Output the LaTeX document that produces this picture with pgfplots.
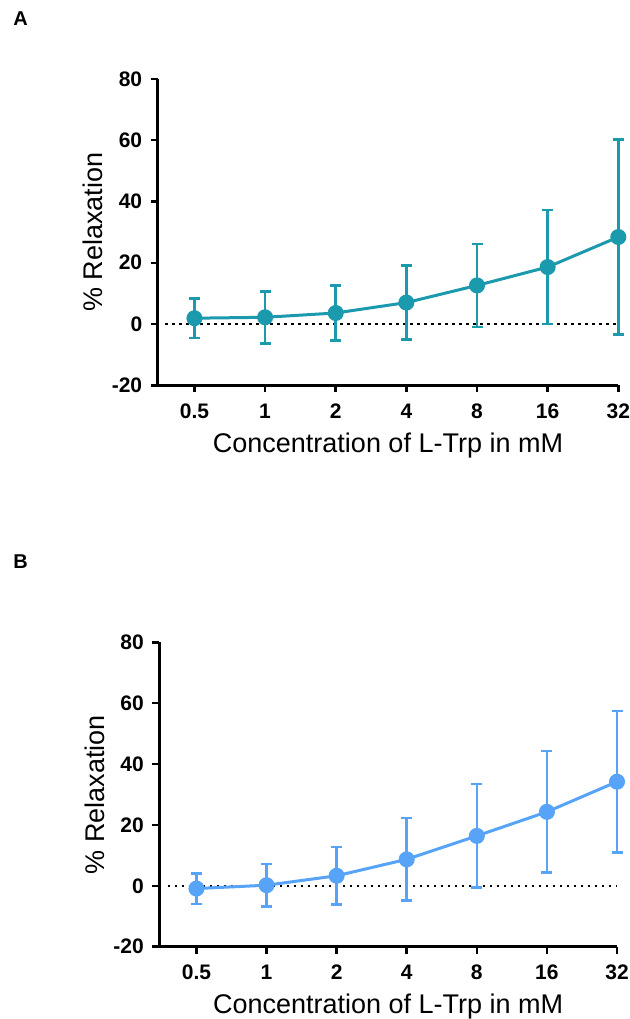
\documentclass[border=0pt]{standalone}
\usepackage{pgfplots}
\pgfplotsset{compat=1.18}
\usepackage{pgfplotstable}
\usepackage{fontspec}
\setmainfont{Liberation Sans}

\definecolor{tealA}{HTML}{1B9AAE}
\definecolor{blueB}{HTML}{56A3F8}

% mean and SD
\pgfplotstableread{
x  y     e
0  1.9   6.5
1  2.2   8.5
2  3.6   9.0
3  7.0   12.1
4  12.6  13.5
5  18.6  18.6
6  28.4  31.8
}\dataA
\pgfplotstableread{
x  y     e
0  -0.9  5.0
1  0.2   7.0
2  3.3   9.5
3  8.7   13.5
4  16.4  17.0
5  24.3  20.0
6  34.2  23.3
}\dataB

\pgfplotsset{
  relax/.style={
    scale only axis,
    anchor=south west,
    axis x line*=bottom,
    axis y line*=left,
    axis line style={line width=3bp, black},
    major tick style={line width=2.5bp, black},
    major tick length=7bp,
    tick align=outside,
    xmax=6, ymin=-20, ymax=80,
    xtick={0,...,6},
    xticklabels={0.5,1,2,4,8,16,32},
    ytick={-20,0,20,40,60,80},
    yticklabels={-20,0,20,40,60,80},
    tick label style={font=\fontsize{21bp}{23bp}\selectfont\bfseries},
    xticklabel style={yshift=-8bp},
    yticklabel style={xshift=-5bp},
    xlabel={Concentration of L-Trp in mM},
    ylabel={\% Relaxation},
    label style={font=\fontsize{27bp}{30bp}\selectfont},
    xlabel style={at={(axis description cs:0.5,-0.218)}, anchor=base},
    ylabel style={at={(axis description cs:-0.119,0.5)}, anchor=base},
    clip=false,
  },
  zeroline/.style={black, line width=2.5bp, dash pattern=on 2.5bp off 4.5bp},
  series/.style={#1, line width=3bp, mark=*, mark size=6.5bp,
    mark options={fill=#1, draw=#1},
    error bars/.cd, y dir=both, y explicit,
    error bar style={line width=2.5bp},
    error mark options={rotate=90, mark size=5.5bp, line width=2.5bp}},
}

\begin{document}
\begin{tikzpicture}[x=1bp,y=1bp]
\path[use as bounding box] (0,0) rectangle (630,1019);
\node[font=\fontsize{20bp}{22bp}\selectfont\bfseries] at (20.5,1000) {A};
\node[font=\fontsize{20bp}{22bp}\selectfont\bfseries] at (20.5,457) {B};

\begin{axis}[relax, at={(157.7bp,633.7bp)}, width=460.6bp, height=306.3bp, xmin=-0.52]
\addplot[zeroline] coordinates {(-0.41,0) (6,0)};
\addplot[series=tealA] table[x=x, y=y, y error=e] {\dataA};
\end{axis}

\begin{axis}[relax, at={(159.3bp,72.3bp)}, width=457.7bp, height=304.4bp, xmin=-0.53]
\addplot[zeroline] coordinates {(-0.41,0) (6,0)};
\addplot[series=blueB] table[x=x, y=y, y error=e] {\dataB};
\end{axis}
\end{tikzpicture}
\end{document}
